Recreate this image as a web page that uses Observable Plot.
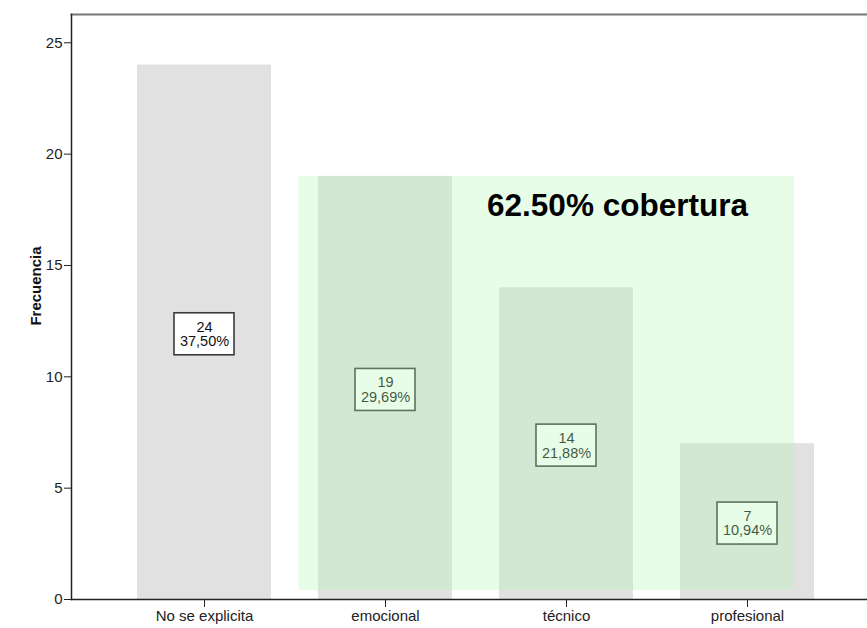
<!DOCTYPE html>
<html><head><meta charset="utf-8">
<script src="https://cdn.jsdelivr.net/npm/d3@7"></script>
<script src="https://cdn.jsdelivr.net/npm/@observablehq/plot@0.6"></script>
<style>body{margin:0;background:#fff} svg{display:block}</style>
</head><body><div id="chart"></div>
<script>
const categories = ["No se explicita", "emocional", "técnico", "profesional"];
const counts = [24, 19, 14, 7];
const percents = [37.50, 29.69, 21.88, 10.94];
const yTicks = [0, 5, 10, 15, 20, 25];
const yMax = 26.27;
const coverageLabel = "62.50% cobertura";
const coverageFrom = "emocional";
const coverageTo = "profesional";
const coverageTop = 19;
const yLabel = "Frecuencia";

const data = categories.map((c, i) => ({
  category: c,
  count: counts[i],
  label: `${counts[i]}\n${percents[i].toFixed(2).replace(".", ",")}%`
}));

const plot = Plot.plot({
  width: 867, height: 628,
  marginLeft: 71, marginRight: 0, marginTop: 14, marginBottom: 29,
  style: {fontFamily: "Arial, 'Liberation Sans', sans-serif", fontSize: "15px", background: "#fff", color: "#222"},
  x: {domain: categories, range: [71, 880.6], paddingInner: 0.2617, paddingOuter: 0.361, label: null},
  y: {domain: [0, yMax], label: null},
  marks: [
    Plot.barY(data, {x: "category", y: "count", fill: "#e1e1e1"}),
    Plot.rect(data, {x: "category", y1: d => d.count / 2, y2: d => d.count / 2,
      insetLeft: 37, insetRight: 37, insetTop: -21, insetBottom: -21, dy: 2,
      fill: "#fff", stroke: "#3a3a3a", strokeWidth: 1.6}),
    Plot.text(data, {x: "category", y: d => d.count / 2, text: "label", dy: 2,
      fontSize: 14.5, lineHeight: 1.0, fill: "#111"}),
    Plot.rect([{a: coverageFrom, b: coverageTo}], {x1: "a", x2: "b", y1: () => 0, y2: () => coverageTop,
      insetLeft: -19.7, insetRight: 20, insetBottom: 9,
      fill: "rgb(178,248,178)", fillOpacity: 0.3}),
    Plot.text([coverageLabel], {x: () => "técnico", y: () => 17.67, text: d => d, dx: 51,
      fontSize: 31.5, fontWeight: "bold", fill: "#000"}),
    Plot.frame({anchor: "top", stroke: "#777", strokeWidth: 2}),
    Plot.frame({anchor: "left", stroke: "#222", strokeWidth: 1.5}),
    Plot.frame({anchor: "bottom", stroke: "#222", strokeWidth: 1.5}),
    Plot.axisY({ticks: yTicks, tickSize: 7, tickPadding: 2, label: null, fontSize: 15}),
    Plot.axisX({tickSize: 8, tickPadding: 3, label: null, fontSize: 15}),
    Plot.text([yLabel], {frameAnchor: "left", textAnchor: "middle", dx: -35, dy: -21, rotate: -90,
      fontWeight: "bold", fontSize: 15, fill: "#111"})
  ]
});
document.getElementById("chart").append(plot);
</script>
</body></html>
